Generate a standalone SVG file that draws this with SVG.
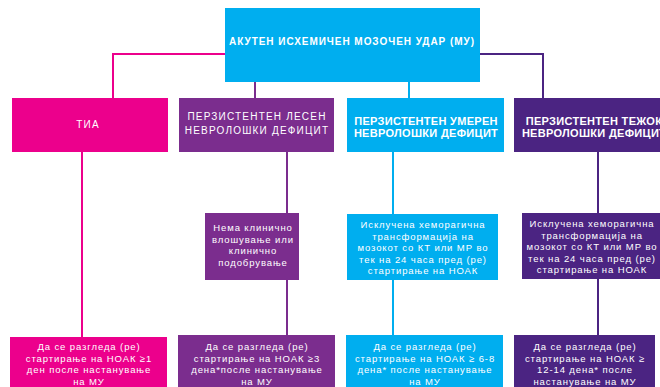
<svg xmlns="http://www.w3.org/2000/svg" width="660" height="387" viewBox="0 0 660 387">
<style>
text{font-family:"Liberation Sans",Arial,sans-serif;fill:#fff;text-anchor:middle}
.t{font-size:10px;font-weight:bold;letter-spacing:0.95px}
.h{font-size:10px;letter-spacing:1.2px}
.hb{font-size:11px;font-weight:bold;letter-spacing:0.3px}
.b{font-size:9.5px;letter-spacing:0.9px}
.c{fill:none;stroke-width:2}
</style>
<rect width="660" height="387" fill="#fff"/>
<g id="connectors">
<polyline class="c" stroke="#EC008C" points="225,54 113,54 113,98"/>
<line class="c" stroke="#7B2D8E" x1="255" y1="82" x2="255" y2="98"/>
<line class="c" stroke="#00AEEF" x1="409" y1="82" x2="409" y2="98"/>
<polyline class="c" stroke="#4B2482" points="480,54 543,54 543,98"/>
<line class="c" stroke="#EC008C" x1="82" y1="152" x2="82" y2="337"/>
<line class="c" stroke="#7B2D8E" x1="287" y1="152" x2="287" y2="335"/>
<line class="c" stroke="#00AEEF" x1="393" y1="152" x2="393" y2="335"/>
<line class="c" stroke="#4B2482" x1="598" y1="152" x2="598" y2="335"/>
</g>
<g id="mu">
<rect x="225" y="8" width="255" height="74" fill="#00AEEF"/>
<text class="t" x="352" y="45">АКУТЕН ИСХЕМИЧЕН МОЗОЧЕН УДАР (МУ)</text>
</g>
<g id="tia">
<rect x="12" y="98" width="156" height="54" fill="#EC008C"/>
<text class="h" x="88" y="128">ТИА</text>
</g>
<g id="lesen">
<rect x="179" y="98" width="155" height="54" fill="#7B2D8E"/>
<text class="h" x="257" y="120">ПЕРЗИСТЕНТЕН ЛЕСЕН</text>
<text class="h" x="257" y="134">НЕВРОЛОШКИ ДЕФИЦИТ</text>
</g>
<g id="umeren">
<rect x="347" y="98" width="157" height="54" fill="#00AEEF"/>
<text class="hb" x="426" y="125">ПЕРЗИСТЕНТЕН УМЕРЕН</text>
<text class="hb" x="426" y="137">НЕВРОЛОШКИ ДЕФИЦИТ</text>
</g>
<g id="tezok">
<rect x="514" y="98" width="157" height="54" fill="#4B2482"/>
<text class="hb" x="594" y="125">ПЕРЗИСТЕНТЕН ТЕЖОК</text>
<text class="hb" x="594" y="137">НЕВРОЛОШКИ ДЕФИЦИТ</text>
</g>
<g id="lesen-mid">
<rect x="205" y="213" width="94" height="67" fill="#7B2D8E"/>
<text class="b" x="253" y="231">Нема клинично</text>
<text class="b" x="253" y="242.5">влошување или</text>
<text class="b" x="253" y="254">клинично</text>
<text class="b" x="253" y="265.5">подобрување</text>
</g>
<g id="umeren-mid">
<rect x="347" y="214" width="151" height="66" fill="#00AEEF"/>
<text class="b" x="423" y="228">Исклучена хеморагична</text>
<text class="b" x="423" y="239.5">трансформација на</text>
<text class="b" x="423" y="251">мозокот со КТ или МР во</text>
<text class="b" x="423" y="262.5">тек на 24 часа пред (ре)</text>
<text class="b" x="423" y="274">стартирање на НОАК</text>
</g>
<g id="tezok-mid">
<rect x="522" y="213" width="150" height="66" fill="#4B2482"/>
<text class="b" x="592" y="227">Исклучена хеморагична</text>
<text class="b" x="592" y="238.5">трансформација на</text>
<text class="b" x="592" y="250">мозокот со КТ или МР во</text>
<text class="b" x="592" y="261.5">тек на 24 часа пред (ре)</text>
<text class="b" x="592" y="273">стартирање на НОАК</text>
</g>
<g id="tia-bot">
<rect x="10" y="337" width="157" height="52" fill="#EC008C"/>
<text class="b" x="89" y="350">Да се разгледа (ре)</text>
<text class="b" x="89" y="361.5">стартирање на НОАК ≥1</text>
<text class="b" x="89" y="373">ден после настанување</text>
<text class="b" x="89" y="384.5">на МУ</text>
</g>
<g id="lesen-bot">
<rect x="178" y="335" width="157" height="54" fill="#7B2D8E"/>
<text class="b" x="257" y="350">Да се разгледа (ре)</text>
<text class="b" x="257" y="361.5">стартирање на НОАК ≥3</text>
<text class="b" x="257" y="373">дена*после настанување</text>
<text class="b" x="257" y="384.5">на МУ</text>
</g>
<g id="umeren-bot">
<rect x="346" y="335" width="157" height="54" fill="#00AEEF"/>
<text class="b" x="425" y="350">Да се разгледа (ре)</text>
<text class="b" x="425" y="361.5">стартирање на НОАК ≥ 6-8</text>
<text class="b" x="425" y="373">дена* после настанување</text>
<text class="b" x="425" y="384.5">на МУ</text>
</g>
<g id="tezok-bot">
<rect x="514" y="335" width="141" height="54" fill="#4B2482"/>
<text class="b" x="585" y="350">Да се разгледа (ре)</text>
<text class="b" x="585" y="361.5">стартирање на НОАК ≥</text>
<text class="b" x="585" y="373">12-14 дена* после</text>
<text class="b" x="585" y="384.5">настанување на МУ</text>
</g>
</svg>
